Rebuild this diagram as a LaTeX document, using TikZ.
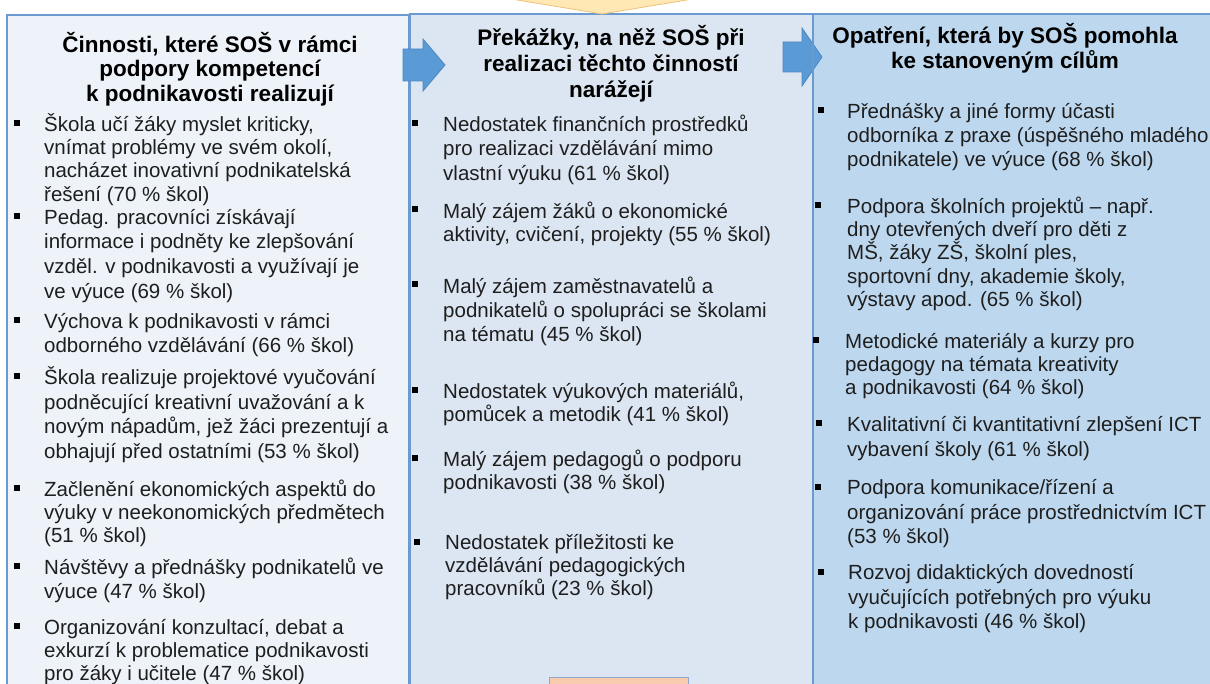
\documentclass[tikz,border=0pt]{standalone}
\usepackage{fontspec}
\setmainfont{Liberation Sans}
\definecolor{colL}{HTML}{EEF3FA}
\definecolor{colM}{HTML}{DCE6F2}
\definecolor{colR}{HTML}{BDD7EE}
\definecolor{bord}{HTML}{6A9AD0}
\definecolor{arrowfill}{HTML}{5B9BD5}
\definecolor{arrowdraw}{HTML}{4A88C6}
\definecolor{trifill}{HTML}{FFE8B3}
\definecolor{tridraw}{HTML}{EFC27A}
\definecolor{orng}{HTML}{F8CBAD}
\definecolor{orngdraw}{HTML}{8FA8C8}
\definecolor{txt}{HTML}{1E1E1E}
\newcommand{\ts}{\rule{0pt}{20pt}}
\newcommand{\hs}{\rule{0pt}{22pt}}
\tikzset{
  itemtext/.style={anchor=north west, inner sep=0pt, align=left, text=txt, font=\fontsize{20.5}{24}\selectfont},
  tight/.style={font=\fontsize{20.5}{23.3}\selectfont},
  loose/.style={font=\fontsize{20.5}{24.8}\selectfont},
  headtext/.style={anchor=north, inner sep=0pt, align=center, text=black},
  bul/.style={fill=black, draw=none, minimum size=5.5pt, inner sep=0pt},
  colbox/.style={draw=bord, line width=1.5pt},
  blockarrow/.style={fill=arrowfill, draw=arrowdraw, line width=0.8pt},
}
\begin{document}
\begin{tikzpicture}[x=1pt,y=-1pt]
\useasboundingbox (0,0) rectangle (1210,684);
\clip (0,0) rectangle (1210,684);
\fill[white] (0,0) rectangle (1210,684);
% column boxes
\path[colbox, fill=colL] (7,15) rectangle (409,700);
\path[colbox, fill=colM] (410,14) rectangle (813,700);
\path[colbox, fill=colR] (813,14) rectangle (1225,700);
% top triangle
\path[fill=trifill, draw=tridraw, line width=0.8pt] (493,-4) -- (711,-4) -- (602,14) -- cycle;
% blue arrows
\path[blockarrow] (403,49) -- (423,49) -- (423,39) -- (445,65) -- (423,91) -- (423,81) -- (403,81) -- cycle;
\path[blockarrow] (783,42) -- (802,42) -- (802,28) -- (822,57) -- (802,86) -- (802,72) -- (783,72) -- cycle;
\draw[bord, line width=1.5pt] (813,14) -- (813,700);
% bottom box
\path[fill=orng, draw=orngdraw, line width=1pt] (549,677) rectangle (688,700);

% headings
\node[headtext, font=\fontsize{22.5}{24.5}\selectfont\bfseries] (hL) at (210,30)
  {\hs Činnosti, které SOŠ v rámci\\ podpory kompetencí\\ k podnikavosti realizují};
\node[headtext, font=\fontsize{22.5}{26}\selectfont\bfseries] (hM) at (611,23)
  {\hs Překážky, na něž SOŠ při\\ realizaci těchto činností\\ narážejí};
\node[headtext, font=\fontsize{22.5}{25}\selectfont\bfseries] (hR) at (1005,21)
  {\hs Opatření, která by SOŠ pomohla\\ ke stanoveným cílům};

% left column
\node[bul] (bL1) at (17,123) {};
\node[itemtext, tight] (L1) at (44,111) {\ts Škola učí žáky myslet kriticky,\\ vnímat problémy ve svém okolí,\\ nacházet inovativní podnikatelská\\ řešení (70 \% škol)};
\node[bul] (bL2) at (17,216) {};
\node[itemtext, loose] (L2) at (44,204) {\ts Pedag. pracovníci získávají\\ informace i podněty ke zlepšování\\ vzděl. v podnikavosti a využívají je\\ ve výuce (69 \% škol)};
\node[bul] (bL3) at (17,320) {};
\node[itemtext] (L3) at (44,308) {\ts Výchova k podnikavosti v rámci\\ odborného vzdělávání (66 \% škol)};
\node[bul] (bL4) at (17,376) {};
\node[itemtext, loose] (L4) at (44,364) {\ts Škola realizuje projektové vyučování\\ podněcující kreativní uvažování a k\\ novým nápadům, jež žáci prezentují a\\ obhajují před ostatními (53 \% škol)};
\node[bul] (bL5) at (17,488) {};
\node[itemtext, tight] (L5) at (44,476) {\ts Začlenění ekonomických aspektů do\\ výuky v neekonomických předmětech\\ (51 \% škol)};
\node[bul] (bL6) at (17,566) {};
\node[itemtext] (L6) at (44,554) {\ts Návštěvy a přednášky podnikatelů ve\\ výuce (47 \% škol)};
\node[bul] (bL7) at (17,626) {};
\node[itemtext, tight] (L7) at (44,614) {\ts Organizování konzultací, debat a\\ exkurzí k problematice podnikavosti\\ pro žáky i učitele (47 \% škol)};

% middle column
\node[bul] (bM1) at (415,123) {};
\node[itemtext, loose] (M1) at (443,111) {\ts Nedostatek finančních prostředků\\ pro realizaci vzdělávání mimo\\ vlastní výuku (61 \% škol)};
\node[bul] (bM2) at (415,209) {};
\node[itemtext, tight] (M2) at (443,198) {\ts Malý zájem žáků o ekonomické\\ aktivity, cvičení, projekty (55 \% škol)};
\node[bul] (bM3) at (415,284) {};
\node[itemtext] (M3) at (443,273) {\ts Malý zájem zaměstnavatelů a\\ podnikatelů o spolupráci se školami\\ na tématu (45 \% škol)};
\node[bul] (bM4) at (415,390) {};
\node[itemtext, tight] (M4) at (443,378) {\ts Nedostatek výukových materiálů,\\ pomůcek a metodik (41 \% škol)};
\node[bul] (bM5) at (415,458) {};
\node[itemtext, tight] (M5) at (443,446) {\ts Malý zájem pedagogů o podporu\\ podnikavosti (38 \% škol)};
\node[bul] (bM6) at (417,542) {};
\node[itemtext, tight] (M6) at (445,529) {\ts Nedostatek příležitosti ke\\ vzdělávání pedagogických\\ pracovníků (23 \% škol)};

% right column
\node[bul] (bR1) at (821,110) {};
\node[itemtext] (R1) at (847,98) {\ts Přednášky a jiné formy účasti\\ odborníka z praxe (úspěšného mladého\\ podnikatele) ve výuce (68 \% škol)};
\node[bul] (bR2) at (818,205) {};
\node[itemtext, tight] (R2) at (847,193) {\ts Podpora školních projektů – např.\\ dny otevřených dveří pro děti z\\ MŠ, žáky ZŠ, školní ples,\\ sportovní dny, akademie školy,\\ výstavy apod. (65 \% škol)};
\node[bul] (bR3) at (816,340) {};
\node[itemtext, tight] (R3) at (845,328) {\ts Metodické materiály a kurzy pro\\ pedagogy na témata kreativity\\ a podnikavosti (64 \% škol)};
\node[bul] (bR4) at (819,423) {};
\node[itemtext, loose] (R4) at (847,411) {\ts Kvalitativní či kvantitativní zlepšení ICT\\ vybavení školy (61 \% škol)};
\node[bul] (bR5) at (818,487) {};
\node[itemtext, loose] (R5) at (847,474) {\ts Podpora komunikace/řízení a\\ organizování práce prostřednictvím ICT\\ (53 \% škol)};
\node[bul] (bR6) at (821,572) {};
\node[itemtext, loose] (R6) at (848,559) {\ts Rozvoj didaktických dovedností\\ vyučujících potřebných pro výuku\\ k podnikavosti (46 \% škol)};
\end{tikzpicture}
\end{document}
